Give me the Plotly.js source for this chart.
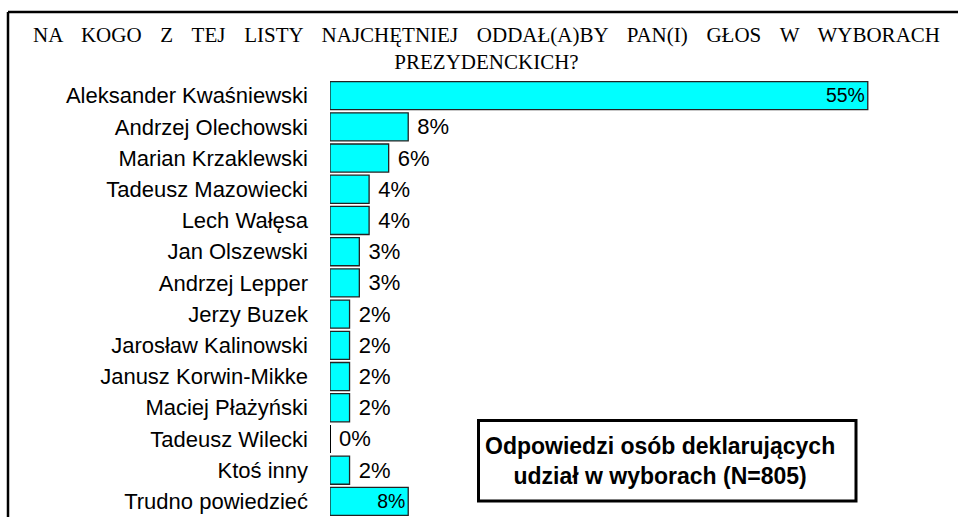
<!DOCTYPE html>
<html>
<head>
<meta charset="utf-8">
<script src="https://cdn.plot.ly/plotly-3.0.1.min.js"></script>
<style>
html,body{margin:0;padding:0;background:#fff;}
#chart{width:958px;height:517px;}
#chart .gtitle{word-spacing:13.5px;}
</style>
</head>
<body>
<div id="chart"></div>
<script>
const categories = [
  "Aleksander Kwaśniewski", "Andrzej Olechowski", "Marian Krzaklewski", "Tadeusz Mazowiecki",
  "Lech Wałęsa", "Jan Olszewski", "Andrzej Lepper", "Jerzy Buzek", "Jarosław Kalinowski",
  "Janusz Korwin-Mikke", "Maciej Płażyński", "Tadeusz Wilecki", "Ktoś inny", "Trudno powiedzieć"
];
const values = [55, 8, 6, 4, 4, 3, 3, 2, 2, 2, 2, 0, 2, 8];
const labelPositions = ["inside","outside","outside","outside","outside","outside","outside",
  "outside","outside","outside","outside","outside","outside","inside"];
const titleText = "NA KOGO Z TEJ LISTY NAJCHĘTNIEJ ODDAŁ(A)BY PAN(I) GŁOS W WYBORACH<br>PREZYDENCKICH?";
const noteText = "Odpowiedzi osób deklarujących<br>udział w wyborach (N=805)";

const W = 958, H = 517, L = 330, R = 12, T = 80, B = 0;
const pw = W - L - R, ph = H - T - B;
const px = x => (x - L) / pw;
const py = y => (H - B - y) / ph;
const BARGAP = 0.1;

const texts = values.map((v, i) => labelPositions[i] === "outside" ? " " + v + "%" : v + "%");

const trace = {
  type: "bar",
  orientation: "h",
  y: categories,
  x: values,
  text: texts,
  textposition: labelPositions,
  insidetextanchor: "end",
  textfont: {family: "Arial, Liberation Sans, sans-serif", size: 22, color: "#000"},
  cliponaxis: false,
  marker: {color: "#00FFFF", line: {color: "#222", width: 1.3}},
  hoverinfo: "none"
};

// zero-value bars: draw their outline as a thin vertical line at the bar base
const zeroShapes = values.map((v, i) => v === 0 ? {
  type: "line", xref: "x", yref: "y",
  x0: 0, x1: 0, y0: i - (1 - BARGAP) / 2, y1: i + (1 - BARGAP) / 2,
  line: {color: "#000", width: 2}
} : null).filter(Boolean);

const layout = {
  width: W, height: H,
  margin: {l: L, r: R, t: T, b: B, pad: 0},
  paper_bgcolor: "#fff", plot_bgcolor: "#fff",
  showlegend: false,
  bargap: BARGAP,
  font: {family: "Arial, Liberation Sans, sans-serif", size: 22, color: "#000"},
  title: {
    text: titleText,
    font: {family: "Liberation Serif, Times New Roman, serif", size: 21, color: "#000"},
    xref: "container", x: 486.5 / W, xanchor: "center",
    yref: "container", y: 1 - 42 / H, yanchor: "top"
  },
  xaxis: {range: [0, 63], visible: false, fixedrange: true},
  yaxis: {
    autorange: "reversed",
    showline: false, showgrid: false, zeroline: false,
    ticks: "", ticklabelstandoff: 21,
    tickfont: {family: "Arial, Liberation Sans, sans-serif", size: 22, color: "#000"}
  },
  shapes: [
    {type: "line", xref: "paper", yref: "paper", x0: px(8), x1: px(960), y0: py(12), y1: py(12), line: {color: "#000", width: 2.5}},
    {type: "line", xref: "paper", yref: "paper", x0: px(8), x1: px(8), y0: py(12), y1: py(530), line: {color: "#000", width: 2.5}},
    {type: "rect", xref: "paper", yref: "paper", x0: px(478.5), x1: px(856), y0: py(501), y1: py(420.5), line: {color: "#000", width: 3}, fillcolor: "#fff", layer: "above"}
  ].concat(zeroShapes),
  annotations: [{
    text: noteText,
    xref: "paper", yref: "paper",
    x: px(660), y: py(461), xanchor: "center", yanchor: "middle",
    showarrow: false,
    font: {family: "Arial, Liberation Sans, sans-serif", size: 23, color: "#000", weight: "bold"},
    align: "center"
  }]
};

Plotly.newPlot("chart", [trace], layout, {displayModeBar: false, staticPlot: true});
</script>
</body>
</html>
